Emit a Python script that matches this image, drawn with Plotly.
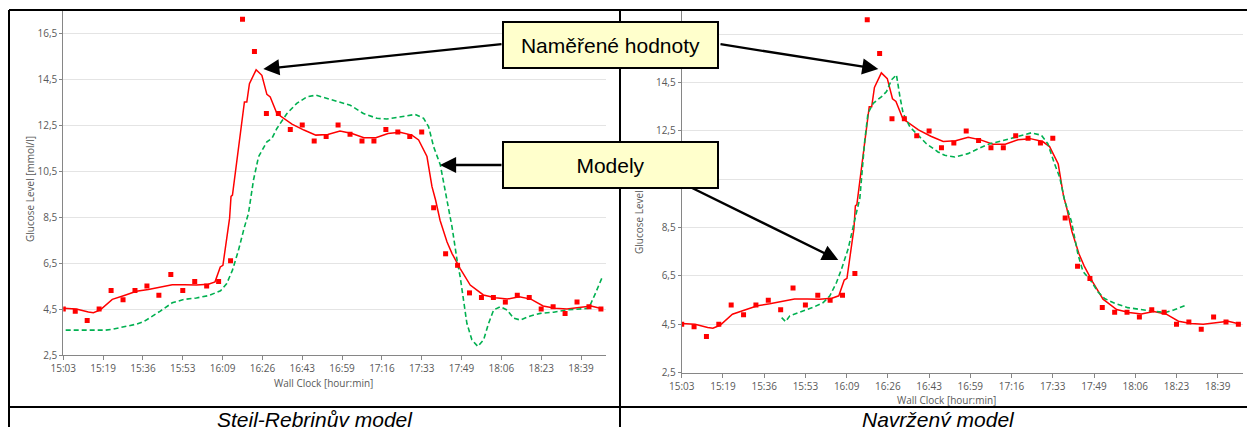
import plotly.graph_objects as go

DAY = "2000-01-01 "

# ---- measured glucose values (every 5 min) ----
meas_times = ["15:03", "15:08", "15:13", "15:18", "15:23", "15:28", "15:33", "15:38", "15:43", "15:48",
              "15:53", "15:58", "16:03", "16:08", "16:13", "16:18", "16:23", "16:28", "16:33", "16:38",
              "16:43", "16:48", "16:53", "16:58", "17:03", "17:08", "17:13", "17:18", "17:23", "17:28",
              "17:33", "17:38", "17:43", "17:48", "17:53", "17:58", "18:03", "18:08", "18:13", "18:18",
              "18:23", "18:28", "18:33", "18:38", "18:43", "18:48"]
meas_vals = [4.5, 4.4, 4.0, 4.5, 5.3, 4.9, 5.3, 5.5, 5.1, 6.0,
             5.3, 5.7, 5.5, 5.7, 6.6, 17.1, 15.7, 13.0, 13.0, 12.3,
             12.5, 11.8, 12.0, 12.5, 12.1, 11.8, 11.8, 12.3, 12.2, 12.0,
             12.2, 8.9, 6.9, 6.4, 5.2, 5.0, 5.0, 4.8, 5.1, 5.0,
             4.5, 4.6, 4.3, 4.8, 4.6, 4.5]

# ---- smoothed measured curve (red solid) ----
fit_times = ["15:03:00", "15:08:24", "15:13:30", "15:15:36", "15:18:30", "15:23:30", "15:28:30", "15:33:36",
             "15:38:36", "15:43:36", "15:48:36", "15:53:42", "15:58:42", "16:03:42", "16:06:30", "16:08:42",
             "16:09:48", "16:12:36", "16:13:12", "16:13:48", "16:17:00", "16:18:48", "16:19:48", "16:20:54",
             "16:23:42", "16:26:06", "16:28:12", "16:29:36", "16:32:24", "16:38:42", "16:43:42", "16:48:42",
             "16:53:42", "16:58:48", "17:03:48", "17:08:48", "17:13:48", "17:18:54", "17:23:54", "17:28:54",
             "17:31:42", "17:33:54", "17:35:12", "17:37:18", "17:38:48", "17:40:42", "17:43:36", "17:45:42",
             "17:49:06", "17:53:18", "17:58:48", "18:03:48", "18:08:48", "18:13:48", "18:18:42", "18:23:48",
             "18:28:48", "18:33:48", "18:38:48", "18:43:54", "18:48:54"]
fit_vals = [4.53, 4.50, 4.37, 4.34, 4.46, 4.92, 5.09, 5.27,
            5.35, 5.44, 5.55, 5.55, 5.54, 5.58, 5.68, 6.33,
            6.40, 8.45, 9.40, 9.45, 12.0, 13.5, 13.5, 14.3,
            14.9, 14.66, 13.83, 13.72, 13.0, 12.54, 12.28, 12.06,
            12.09, 12.24, 12.13, 11.95, 11.95, 12.13, 12.18, 12.06,
            11.85, 11.41, 11.13, 9.82, 9.24, 8.35, 7.41, 6.91,
            6.26, 5.54, 5.11, 4.99, 4.93, 5.03, 4.93, 4.63,
            4.53, 4.50, 4.57, 4.63, 4.50]

# ---- Steil-Rebrin model (green dashed, left) ----
sr_times = ["15:04:00", "15:20:30", "15:23:30", "15:28:30", "15:33:36", "15:36:42", "15:40:42", "15:43:36",
            "15:48:36", "15:53:42", "15:58:42", "16:03:42", "16:08:48", "16:11:24", "16:13:48", "16:16:18",
            "16:18:48", "16:20:30", "16:22:36", "16:24:42", "16:28:12", "16:30:18", "16:32:24", "16:36:36",
            "16:40:42", "16:44:54", "16:48:42", "16:56:06", "17:03:06", "17:08:36", "17:14:18", "17:18:24",
            "17:24:00", "17:30:18", "17:33:48", "17:35:54", "17:38:00", "17:40:48", "17:42:54", "17:45:42",
            "17:47:48", "17:49:06", "17:50:30", "17:51:54", "17:54:00", "17:56:30", "17:58:54", "18:01:00",
            "18:03:06", "18:05:54", "18:08:42", "18:11:30", "18:14:18", "18:18:30", "18:22:36", "18:28:12",
            "18:33:48", "18:39:24", "18:42:54", "18:45:42", "18:48:30"]
sr_vals = [3.58, 3.58, 3.62, 3.73, 3.84, 3.95, 4.20, 4.41,
           4.77, 4.92, 4.98, 5.08, 5.29, 5.61, 6.19, 7.05,
           8.06, 8.66, 10.11, 11.12, 11.77, 11.92, 12.35, 13.00,
           13.44, 13.72, 13.80, 13.58, 13.36, 13.00, 12.79, 12.76,
           12.86, 12.96, 12.79, 12.42, 11.55, 10.76, 9.60, 8.06,
           6.62, 5.90, 4.89, 3.88, 3.16, 2.87, 3.16, 3.88,
           4.46, 4.60, 4.46, 4.10, 4.02, 4.20, 4.31, 4.36,
           4.46, 4.50, 4.53, 5.18, 5.87]

# ---- proposed model (green dashed, right) ----
nav_times = ["15:43:24", "15:45:00", "15:46:42", "15:50:48", "15:56:06", "16:00:12", "16:02:54", "16:05:36",
             "16:07:36", "16:10:18", "16:12:18", "16:13:42", "16:15:00", "16:17:00", "16:18:18", "16:20:24",
             "16:23:48", "16:25:48", "16:27:48", "16:29:48", "16:31:12", "16:32:30", "16:35:12", "16:38:30",
             "16:41:54", "16:46:36", "16:49:18", "16:53:24", "16:58:42", "17:02:48", "17:07:30", "17:12:12",
             "17:18:18", "17:24:18", "17:28:24", "17:31:00", "17:33:42", "17:35:48", "17:37:48", "17:40:30",
             "17:43:12", "17:45:12", "17:48:36", "17:51:12", "17:53:54", "17:58:00", "18:03:18", "18:08:42",
             "18:14:06", "18:18:48", "18:22:06", "18:26:30"]
nav_vals = [4.78, 4.61, 4.85, 4.99, 5.20, 5.40, 5.68, 6.24,
            6.79, 7.63, 8.46, 9.15, 9.71, 12.11, 13.23, 13.64,
            13.92, 14.13, 14.61, 14.82, 13.92, 13.23, 12.67, 12.32,
            11.97, 11.63, 11.49, 11.42, 11.56, 11.76, 11.97, 12.08,
            12.25, 12.42, 12.32, 11.97, 11.14, 10.58, 9.61, 8.77,
            7.38, 6.69, 6.27, 5.85, 5.57, 5.37, 5.19, 5.10,
            5.03, 5.00, 5.10, 5.28]

# ---- ticks ----
x_tick_times = ["15:03:00", "15:19:40", "15:36:20", "15:53:00", "16:09:40", "16:26:20", "16:43:00",
                "16:59:40", "17:16:20", "17:33:00", "17:49:40", "18:06:20", "18:23:00", "18:39:40"]
x_tick_labels = ["15:03", "15:19", "15:36", "15:53", "16:09", "16:26", "16:43",
                 "16:59", "17:16", "17:33", "17:49", "18:06", "18:23", "18:39"]
y_tick_vals = [2.5, 4.5, 6.5, 8.5, 10.5, 12.5, 14.5, 16.5]
y_tick_labels = ["2,5", "4,5", "6,5", "8,5", "10,5", "12,5", "14,5", "16,5"]

# page body has an 8px margin; the figure is sized to fill the rest of the window
PAGE_OFF = 8
W, H = 1255 - PAGE_OFF, 427 - PAGE_OFF


def fx(px):
    return (px - PAGE_OFF) / W


def fy(py):
    return 1 - (py - PAGE_OFF) / H


def dt(lst):
    return [DAY + (t if len(t) > 5 else t + ":00") for t in lst]


RED = "#FF0000"
GREEN = "#00B050"
TICKC = "#595959"
AXC = "#868686"
FONT = "Open Sans"

fig = go.Figure()

for xa, ya, mt, mv in [("x", "y", sr_times, sr_vals), ("x2", "y2", nav_times, nav_vals)]:
    fig.add_trace(go.Scatter(x=dt(fit_times), y=fit_vals, mode="lines", xaxis=xa, yaxis=ya,
                             line=dict(color=RED, width=1.5), hoverinfo="skip"))
    fig.add_trace(go.Scatter(x=dt(mt), y=mv, mode="lines", xaxis=xa, yaxis=ya,
                             line=dict(color=GREEN, width=1.6, dash="5px,3px"), hoverinfo="skip"))
    fig.add_trace(go.Scatter(x=dt(meas_times), y=meas_vals, mode="markers", xaxis=xa, yaxis=ya,
                             marker=dict(symbol="square", size=5, color=RED, line=dict(width=0))))

xcommon = dict(type="date", range=[DAY + "15:03:00", DAY + "18:50:00"],
               tickvals=dt(x_tick_times), ticktext=x_tick_labels, automargin=False,
               ticks="outside", ticklen=4, tickcolor=AXC, showline=True, linecolor=AXC,
               linewidth=1, showgrid=False, zeroline=False,
               tickfont=dict(family=FONT, size=10, color=TICKC))
ycommon = dict(range=[2.5, 17.5], tickvals=y_tick_vals, ticktext=y_tick_labels, automargin=False,
               ticks="outside", ticklen=3, tickcolor=AXC, showline=True, linecolor=AXC,
               linewidth=1, showgrid=True, gridcolor="#e4e4e4", gridwidth=1, zeroline=False,
               tickfont=dict(family=FONT, size=10, color=TICKC))

fig.update_layout(
    width=W, height=H, margin=dict(l=0, r=0, t=0, b=0, pad=0, autoexpand=False),
    paper_bgcolor="white", plot_bgcolor="white", showlegend=False,
    xaxis=dict(domain=[fx(63.3), fx(605.7)], anchor="y", **xcommon),
    yaxis=dict(domain=[fy(355), fy(10)], anchor="x", **ycommon),
    xaxis2=dict(domain=[fx(681.7), fx(1243.3)], anchor="y2", **xcommon),
    yaxis2=dict(domain=[fy(372.7), fy(10)], anchor="x2", **ycommon),
)

# frame lines
frame = [(9, 10, 1255, 10), (9, 10, 9, 427), (620, 10, 620, 427), (9, 407, 1255, 407)]
for x0, y0, x1, y1 in frame:
    fig.add_shape(type="line", xref="paper", yref="paper", x0=fx(x0), y0=fy(y0), x1=fx(x1), y1=fy(y1),
                  line=dict(color="black", width=2), layer="above")

ann = []
# axis titles
tfont = dict(family=FONT, size=10, color=TICKC)
ann.append(dict(text="Glucose Level [mmol/l]", x=fx(30), y=fy(189), textangle=-90, font=tfont))
ann.append(dict(text="Glucose Level [mmol/l]", x=fx(639), y=fy(201), textangle=-90, font=tfont))
ann.append(dict(text="Wall Clock [hour:min]", x=fx(323.3), y=fy(382.5), font=tfont))
ann.append(dict(text="Wall Clock [hour:min]", x=fx(946.7), y=fy(400), font=tfont))

# arrows (tip, tail) in pixels
arrows = [((263.3, 69), (503, 44)), ((878.3, 69), (719, 44)),
          ((440, 165), (503, 165)), ((838.3, 260), (680, 182))]
for (tx, ty), (sx, sy) in arrows:
    ann.append(dict(text="", x=fx(tx), y=fy(ty), showarrow=True, ax=sx - tx, ay=sy - ty,
                    arrowhead=2, arrowsize=1.4, arrowwidth=2.3, arrowcolor="black", standoff=0))

bfont = dict(family="Liberation Sans, Arial", size=21, color="black")
for label, cy in [("Naměřené hodnoty", 45), ("Modely", 165)]:
    ann.append(dict(text=label, x=fx(610.8), y=fy(cy), width=213, height=44, bgcolor="#FFFFCC",
                    bordercolor="black", borderwidth=2, borderpad=0, font=bfont))

ann.append(dict(text="<i>Steil-Rebrinův model</i>", x=fx(315), y=fy(419.5), font=bfont))
ann.append(dict(text="<i>Navržený model</i>", x=fx(939), y=fy(419.5), font=bfont))

for a in ann:
    a.setdefault("xref", "paper")
    a.setdefault("yref", "paper")
    a.setdefault("showarrow", False)
    a.setdefault("xanchor", "center")
    a.setdefault("yanchor", "middle")
    fig.add_annotation(**a)

fig.write_html("out.html")
